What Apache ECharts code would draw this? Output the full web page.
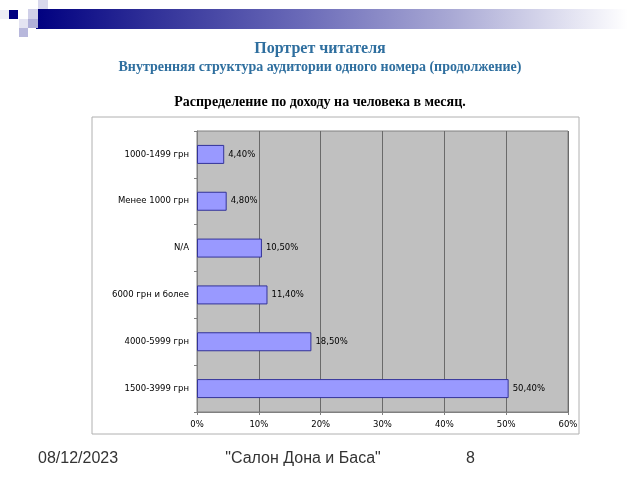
<!DOCTYPE html>
<html><head><meta charset="utf-8">
<script src="https://cdn.jsdelivr.net/npm/echarts@6/dist/echarts.min.js"></script>
<style>html,body{margin:0;padding:0;background:#fff}#c{width:640px;height:480px}</style>
</head><body><div id="c"></div>
<script>
var categories = ['1500-3999 грн', '4000-5999 грн', '6000 грн и более', 'N/A', 'Менее 1000 грн', '1000-1499 грн'];
var values = [50.4, 18.5, 11.4, 10.5, 4.8, 4.4];
var tickLabels = ['0%', '10%', '20%', '30%', '40%', '50%', '60%'];
var title1 = 'Портрет читателя';
var title2 = 'Внутренняя структура аудитории одного номера (продолжение)';
var title3 = 'Распределение по доходу на человека в месяц.';
var footerDate = '08/12/2023';
var footerName = '"Салон Дона и Баса"';
var footerPage = '8';

var chart = echarts.init(document.getElementById('c'));
var serif = '"Liberation Serif", "DejaVu Serif", serif';
var sans = '"DejaVu Sans", Verdana, sans-serif';
var foot = '16px "Liberation Sans", Arial, sans-serif';
chart.setOption({
  animation: false,
  backgroundColor: '#fff',
  graphic: [
    {type: 'rect', shape: {x: 36, y: 9, width: 604, height: 20}, z: 0,
     style: {fill: new echarts.graphic.LinearGradient(0, 0, 1, 0, [
       {offset: 0, color: '#000080'}, {offset: 0.19, color: '#303098'}, {offset: 0.44, color: '#6a6ab8'},
       {offset: 0.685, color: '#a8a8d4'}, {offset: 0.93, color: '#f0f0f8'}, {offset: 0.98, color: '#ffffff'}])}},
    {type: 'rect', shape: {x: 9, y: 10, width: 9, height: 9}, style: {fill: '#000080'}},
    {type: 'rect', shape: {x: 38, y: 0, width: 10, height: 9}, style: {fill: '#d8d8ec'}},
    {type: 'rect', shape: {x: 28, y: 9, width: 10, height: 10}, style: {fill: '#d0d0e8'}},
    {type: 'rect', shape: {x: 28, y: 19, width: 10, height: 9}, style: {fill: '#b0b0d8'}},
    {type: 'rect', shape: {x: 19, y: 19, width: 9, height: 9}, style: {fill: '#e4e4f2'}},
    {type: 'rect', shape: {x: 19, y: 28, width: 9, height: 9}, style: {fill: '#b8b8dc'}},
    {type: 'rect', shape: {x: 0, y: 10, width: 9, height: 9}, style: {fill: '#eeeef6'}},
    {type: 'rect', shape: {x: 92, y: 117, width: 487, height: 317}, z: -1,
     style: {fill: '#fff', stroke: '#b0b0b0', lineWidth: 1}},
    {type: 'text', x: 320, y: 49, style: {text: title1, fill: '#2f6f9f', font: 'bold 16px ' + serif, textAlign: 'center', textVerticalAlign: 'middle'}},
    {type: 'text', x: 320, y: 67, style: {text: title2, fill: '#2f6f9f', font: 'bold 14px ' + serif, textAlign: 'center', textVerticalAlign: 'middle'}},
    {type: 'text', x: 320, y: 102, style: {text: title3, fill: '#000', font: 'bold 14px ' + serif, textAlign: 'center', textVerticalAlign: 'middle'}},
    {type: 'text', x: 38, y: 459, style: {text: footerDate, fill: '#333', font: foot, textVerticalAlign: 'middle'}},
    {type: 'text', x: 303, y: 459, style: {text: footerName, fill: '#333', font: foot, textAlign: 'center', textVerticalAlign: 'middle'}},
    {type: 'text', x: 466, y: 459, style: {text: footerPage, fill: '#333', font: foot, textVerticalAlign: 'middle'}}
  ],
  grid: {left: 197, right: 72, top: 131, bottom: 68, show: true, backgroundColor: '#c0c0c0', borderColor: '#808080', borderWidth: 1},
  xAxis: {
    type: 'value', min: 0, max: 60, interval: 10,
    axisLine: {show: true, lineStyle: {color: '#808080'}},
    axisTick: {show: true, length: 3, lineStyle: {color: '#808080'}},
    axisLabel: {color: '#000', fontSize: 8.5, fontFamily: sans, margin: 8,
      formatter: function (v) { return tickLabels[Math.round(v / 10)]; }},
    splitLine: {show: true, lineStyle: {color: '#6a6a6a', width: 1}}
  },
  yAxis: {
    type: 'category', data: categories,
    axisLine: {show: true, lineStyle: {color: '#808080'}},
    axisTick: {show: true, length: 3, lineStyle: {color: '#808080'}},
    axisLabel: {color: '#000', fontSize: 8.5, fontFamily: sans, margin: 8}
  },
  series: [{
    type: 'bar', data: values, barWidth: 19,
    itemStyle: {color: '#9999ff', borderColor: '#333399', borderWidth: 1},
    label: {show: true, position: 'right', distance: 4, color: '#000', fontSize: 8.5, fontFamily: sans,
      formatter: function (p) { return p.value.toFixed(2).replace('.', ',') + '%'; }}
  }]
});
</script></body></html>
